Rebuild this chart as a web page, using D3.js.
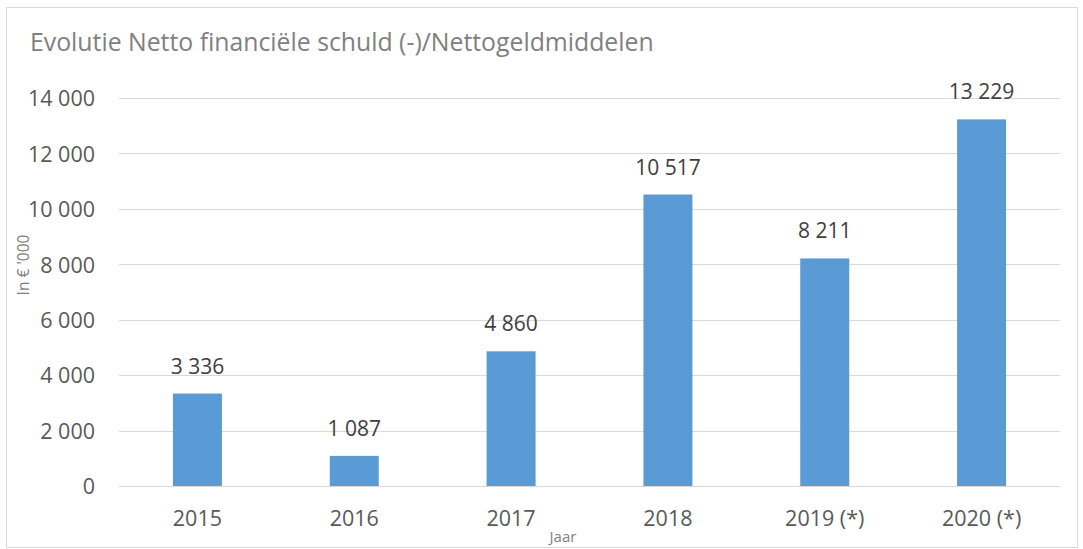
<!DOCTYPE html>
<html><head><meta charset="utf-8">
<script src="https://cdn.jsdelivr.net/npm/d3@7"></script>
<style>html,body{margin:0;padding:0;background:#fff;}svg{display:block;font-family:"Open Sans",sans-serif;}</style>
</head><body>
<svg id="c" width="1083" height="549"></svg>
<script>
const categories = ["2015","2016","2017","2018","2019 (*)","2020 (*)"];
const values = [3336,1087,4860,10517,8211,13229];
const valueLabels = ["3 336","1 087","4 860","10 517","8 211","13 229"];
const yTicks = [0,2000,4000,6000,8000,10000,12000,14000];
const yTickLabels = ["0","2 000","4 000","6 000","8 000","10 000","12 000","14 000"];
const title = "Evolutie Netto financiële schuld (-)/Nettogeldmiddelen";
const yTitle = "In € '000";
const xTitle = "Jaar";

const svg = d3.select("#c");
const W = 1083, H = 549;
const m = {left:119, right:1083-1060, top:98, bottom:549-486};

svg.append("rect").attr("x",6.5).attr("y",7.5).attr("width",1071).attr("height",540)
  .attr("fill","#fff").attr("stroke","#d9d9d9").attr("stroke-width",1);

const x = d3.scaleBand().domain(categories).range([m.left, W-m.right]).paddingInner(0.6875).paddingOuter(0.34375);
const y = d3.scaleLinear().domain([0,14000]).range([H-m.bottom, m.top]);

// gridlines
const yAxis = d3.axisLeft(y).tickValues(yTicks).tickSize(-(W-m.right-m.left)).tickPadding(24)
  .tickFormat((d,i)=>yTickLabels[i]);
const gy = svg.append("g").attr("transform",`translate(${m.left},0)`).call(yAxis);
gy.select(".domain").remove();
gy.selectAll(".tick line").attr("stroke","#d9d9d9").attr("shape-rendering","crispEdges");
gy.selectAll(".tick text").attr("fill","#595959").style("font-size","21.5px").attr("font-family","Open Sans").attr("dy","0.36em");

// bars
svg.append("g").selectAll("rect").data(values).join("rect")
  .attr("x",(d,i)=>x(categories[i])).attr("width",x.bandwidth())
  .attr("y",d=>y(d)).attr("height",d=>y(0)-y(d)).attr("fill","#5B9BD5");

// data labels
svg.append("g").selectAll("text").data(values).join("text")
  .attr("x",(d,i)=>x(categories[i])+x.bandwidth()/2).attr("y",d=>y(d)-20)
  .attr("text-anchor","middle").attr("fill","#404040").style("font-size","21px")
  .text((d,i)=>valueLabels[i]);

// x axis
const xAxis = d3.axisBottom(x).tickSize(0).tickPadding(0);
const gx = svg.append("g").attr("transform",`translate(0,${H-m.bottom})`).call(xAxis);
gx.select(".domain").attr("stroke","#d9d9d9");
gx.selectAll(".tick text").attr("fill","#595959").style("font-size","21.5px").attr("font-family","Open Sans")
  .attr("dy",null).attr("y",40);

// titles
svg.append("text").attr("x",30).attr("y",51).attr("fill","#808080").style("font-size","24.8px").text(title);
svg.append("text").attr("transform","translate(29,265) rotate(-90)").attr("text-anchor","middle")
  .attr("fill","#808080").style("font-size","15.5px").text(yTitle);
svg.append("text").attr("x",563).attr("y",542).attr("text-anchor","middle")
  .attr("fill","#808080").style("font-size","15px").text(xTitle);
</script>
</body></html>
